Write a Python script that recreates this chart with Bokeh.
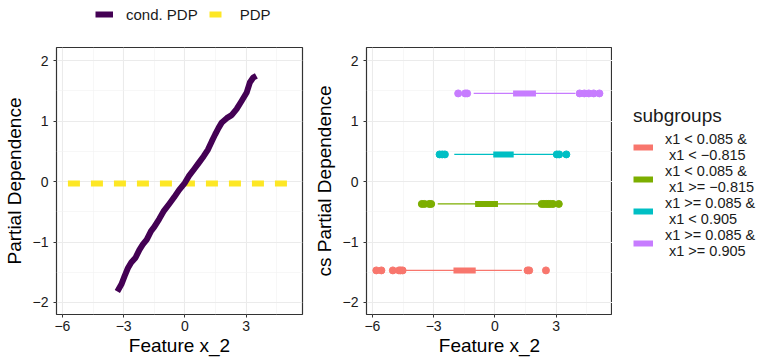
from bokeh.plotting import figure
from bokeh.models import (Range1d, FixedTicker, Legend, LegendItem)
from bokeh.layouts import column, row
from bokeh.embed import file_html
from bokeh.resources import INLINE

FONT = "Liberation Sans"

# ---------------- data ----------------
# left panel: conditional PDP (cond. PDP) and PDP of feature x_2
cond_x = [-3.31, -3.11, -2.95, -2.79, -2.63, -2.42, -2.23, -2.06, -1.87, -1.66,
          -1.50, -1.26, -1.02, -0.77, -0.53, -0.29, 0.00, 0.19, 0.44, 0.68,
          0.92, 1.13, 1.32, 1.48, 1.65, 1.81, 2.05, 2.29, 2.53, 2.77,
          3.02, 3.18, 3.34, 3.50]
cond_y = [-1.82, -1.70, -1.56, -1.43, -1.34, -1.26, -1.13, -1.04, -0.96, -0.82,
          -0.75, -0.62, -0.48, -0.37, -0.26, -0.14, -0.02, 0.09, 0.20, 0.31,
          0.42, 0.53, 0.67, 0.78, 0.89, 0.98, 1.05, 1.10, 1.20, 1.33,
          1.47, 1.64, 1.72, 1.75]
pdp_x = [-5.73, 5.03]
pdp_y = [-0.03, -0.03]

# right panel: subgroup boxplots of feature x_2 at cs partial dependence
subgroups = ["x1 < 0.085 &\n x1 < \u22120.815",
             "x1 < 0.085 &\n x1 >= \u22120.815",
             "x1 >= 0.085 &\n x1 < 0.905",
             "x1 >= 0.085 &\n x1 >= 0.905"]
sub_colors = ["#F8766D", "#7CAE00", "#00BFC4", "#C77CFF"]
cs_pd = [-1.47, -0.37, 0.45, 1.46]
whisker_lo = [-4.47, -2.80, -1.99, -1.04]
q1 = [-2.03, -0.97, -0.08, 0.89]
q3 = [-0.94, 0.15, 0.92, 2.01]
whisker_hi = [1.32, 2.22, 2.89, 3.94]
outliers = [
    [-5.81, -5.56, -5.00, -4.70, -4.62, -4.52, 1.60, 1.68, 2.50],
    [-3.58, -3.45, -3.22, -3.12, 2.29, 2.40, 2.52, 2.62, 2.72, 2.85, 3.13],
    [-2.71, -2.58, -2.45, 3.03, 3.15, 3.50],
    [-1.80, -1.46, -1.36, 4.15, 4.38, 4.60, 4.84, 5.12],
]

x_ticks = [-6, -3, 0, 3]
x_minor = [-4.5, -1.5, 1.5, 4.5]
y_ticks = [-2, -1, 0, 1, 2]
y_minor = [-1.5, -0.5, 0.5, 1.5]


def lab(v):
    return ("\u2212" + str(abs(v))) if v < 0 else str(v)


def make_panel(ylabel, width, min_left, min_right):
    p = figure(width=width, height=331, output_backend="svg", toolbar_location=None,
               x_range=Range1d(-6.29, 5.76), y_range=Range1d(-2.2, 2.22),
               min_border_left=min_left, min_border_right=min_right,
               min_border_top=17, min_border_bottom=47)
    p.outline_line_color = "#333333"
    p.outline_line_width = 1.2
    p.background_fill_color = "white"
    p.border_fill_color = "white"
    p.xaxis.ticker = FixedTicker(ticks=x_ticks, minor_ticks=x_minor)
    p.yaxis.ticker = FixedTicker(ticks=y_ticks, minor_ticks=y_minor)
    p.xaxis.major_label_overrides = {v: lab(v) for v in x_ticks}
    p.yaxis.major_label_overrides = {v: lab(v) for v in y_ticks}
    for ax in (p.xaxis[0], p.yaxis[0]):
        ax.axis_line_color = None
        ax.major_tick_line_color = "#333333"
        ax.major_tick_in = 0
        ax.major_tick_out = 3
        ax.minor_tick_line_color = None
        ax.major_label_text_font = FONT
        ax.major_label_text_font_size = "14px"
        ax.major_label_text_color = "#1a1a1a"
        ax.axis_label_text_font = FONT
        ax.axis_label_text_font_size = "19px"
        ax.axis_label_text_font_style = "normal"
        ax.axis_label_text_color = "black"
    p.xaxis.major_label_standoff = 2
    p.yaxis.major_label_standoff = 4
    p.xaxis.axis_label_standoff = 1
    p.yaxis.axis_label_standoff = 5
    p.xaxis.axis_label = "Feature x_2"
    p.yaxis.axis_label = ylabel
    for g in (p.xgrid[0], p.ygrid[0]):
        g.grid_line_color = "#EBEBEB"
        g.grid_line_width = 1.1
        g.minor_grid_line_color = "#F2F2F2"
        g.minor_grid_line_width = 0.6
    return p


# ---------------- left panel ----------------
p1 = make_panel("Partial Dependence", 310, 53, 8)
r_pdp = p1.line(pdp_x, pdp_y, line_color="#FDE725", line_width=6, line_dash="12 11")
r_cond = p1.line(cond_x, cond_y, line_color="#440154", line_width=6,
                 line_join="round", line_cap="butt")

# ---------------- right panel ----------------
p2 = make_panel("cs Partial Dependence", 302, 53, 0)
box_renderers = []
for i in range(len(subgroups)):
    c = sub_colors[i]
    p2.segment(x0=[whisker_lo[i]], y0=[cs_pd[i]], x1=[whisker_hi[i]], y1=[cs_pd[i]],
               line_color=c, line_width=1.3)
    rb = p2.segment(x0=[q1[i]], y0=[cs_pd[i]], x1=[q3[i]], y1=[cs_pd[i]],
                    line_color=c, line_width=6, line_cap="butt")
    box_renderers.append(rb)
    p2.scatter(outliers[i], [cs_pd[i]] * len(outliers[i]), size=7,
               fill_color=c, line_color=c)

# ---------------- top legend ----------------
top = figure(width=762, height=30, output_backend="svg", toolbar_location=None,
             x_range=Range1d(0, 1), y_range=Range1d(0, 1),
             min_border=0, outline_line_color=None)
top.axis.visible = False
top.grid.visible = False
# proxy renderers kept outside the visible range (only used for legend keys)
t_cond = top.line([5, 6], [5, 5], line_color="#440154", line_width=6)
t_pdp = top.line([5, 6], [5, 5], line_color="#FDE725", line_width=6, line_dash="12 11")
leg_top = Legend(items=[LegendItem(label="cond. PDP", renderers=[t_cond]),
                        LegendItem(label="PDP", renderers=[t_pdp])],
                 orientation="horizontal", location=(95, 6),
                 padding=0, margin=0, spacing=11, glyph_width=18, glyph_height=20,
                 label_standoff=13, border_line_color=None, background_fill_alpha=0,
                 label_text_font=FONT, label_text_font_size="15px",
                 label_text_color="#1a1a1a")
top.add_layout(leg_top, "center")

# ---------------- right legend ----------------
lg = figure(width=150, height=331, output_backend="svg", toolbar_location=None,
            x_range=Range1d(0, 1), y_range=Range1d(0, 1),
            min_border=0, outline_line_color=None)
lg.axis.visible = False
lg.grid.visible = False
lg_r = []
for i in range(len(subgroups)):
    lg_r.append(lg.line([5, 6], [5, 5], line_color=sub_colors[i], line_width=6))
leg_sub = Legend(items=[LegendItem(label=subgroups[i], renderers=[lg_r[i]])
                        for i in range(len(subgroups))],
                 title="subgroups", location=(21, 55),
                 padding=0, margin=0, spacing=0, glyph_width=20, glyph_height=20,
                 label_standoff=12, border_line_color=None, background_fill_alpha=0,
                 title_text_font=FONT, title_text_font_size="19px",
                 title_text_font_style="normal", title_standoff=4,
                 title_text_color="#1a1a1a",
                 label_text_font=FONT, label_text_font_size="14.5px",
                 label_text_color="#1a1a1a",
                 label_text_line_height=0.7, label_height=20)
lg.add_layout(leg_sub, "center")

layout = column(top, row(p1, p2, lg))
open("out.html", "w").write(file_html(layout, INLINE))
